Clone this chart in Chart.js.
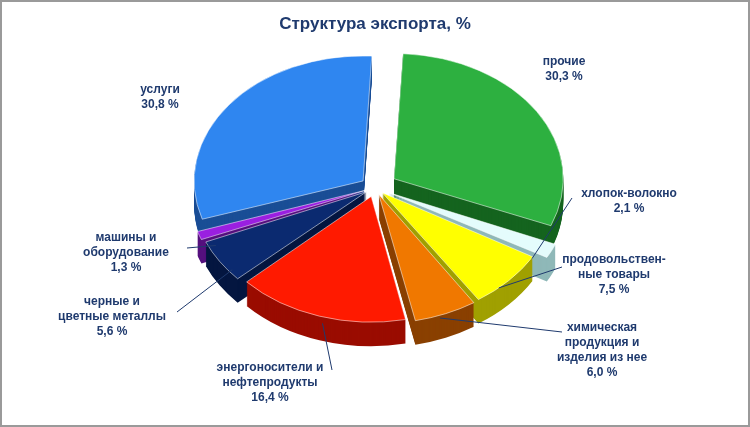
<!DOCTYPE html>
<html>
<head>
<meta charset="utf-8">
<script src="https://cdn.jsdelivr.net/npm/chart.js@4"></script>
<style>
  html, body { margin: 0; padding: 0; background: #fff; }
  #wrap { width: 746px; height: 423px; border: 2px solid #9a9a9a; position: relative; }
  canvas { display: block; }
</style>
</head>
<body>
<div id="wrap"><canvas id="myPlot" width="746" height="423"></canvas></div>
<script>
const categories = ['прочие', 'хлопок-волокно', 'продовольственные товары', 'химическая продукция и изделия из нее',
  'энергоносители и нефтепродукты', 'черные и цветные металлы', 'машины и оборудование', 'услуги'];
const shares = [30.3, 2.1, 7.5, 6.0, 16.4, 5.6, 1.3, 30.8];
const labelLines = [
  ['прочие', '30,3 %'],
  ['хлопок-волокно', '2,1 %'],
  ['продовольствен-', 'ные товары', '7,5 %'],
  ['химическая', 'продукция и', 'изделия из нее', '6,0 %'],
  ['энергоносители и', 'нефтепродукты', '16,4 %'],
  ['черные и', 'цветные металлы', '5,6 %'],
  ['машины и', 'оборудование', '1,3 %'],
  ['услуги', '30,8 %']
];
const topColors = ['#2DB040', '#E4FCFC', '#FFFF00', '#F07800', '#FF1A00', '#0B2A70', '#9A1FE0', '#2F86F0'];
const sideColors = ['#15641F', '#8FB8B8', '#A0A000', '#8A4000', '#9A0C00', '#041640', '#55107E', '#1A4E96'];
const offsets = [90, 60, 40, 40, 50, 40, 40, 60];
// label anchor (centre x, first line y) and where the leader line ends
const labelPos = [[562, 60], [627, 192], [612, 258], [600, 326], [268, 366], [110, 300], [124, 236], [158, 88]];
const leaderFrom = [null, [570, 196], [560, 265], [560, 330], [330, 368], [175, 310], [185, 246], null];

const SY = 0.74, DEPTH = 24;

function squash(chart) {
  const a = chart.chartArea;
  const cy = (a.top + a.bottom) / 2;
  return {cy: cy, map: y => cy + (y - cy) * SY};
}

const pie3d = {
  id: 'pie3d',
  beforeDatasetsDraw(chart) {
    const ctx = chart.ctx;
    const {cy} = squash(chart);
    const meta = chart.getDatasetMeta(0);
    ctx.save();
    ctx.translate(0, cy);
    ctx.scale(1, SY);
    ctx.translate(0, -cy);
    for (let d = DEPTH; d > 0; d--) {
      meta.data.forEach((arc, i) => {
        const saved = arc.options;
        arc.options = Object.assign({}, saved, {backgroundColor: sideColors[i], borderWidth: 0});
        ctx.save();
        ctx.translate(0, d / SY);
        arc.draw(ctx);
        ctx.restore();
        arc.options = saved;
      });
    }
  },
  afterDatasetsDraw(chart) {
    chart.ctx.restore();
  },
  afterDraw(chart) {
    const ctx = chart.ctx;
    const {map} = squash(chart);
    const meta = chart.getDatasetMeta(0);
    ctx.save();
    ctx.font = 'bold 12px "Liberation Sans", Arial, sans-serif';
    ctx.fillStyle = '#1F3A6E';
    ctx.textAlign = 'center';
    ctx.textBaseline = 'middle';
    labelLines.forEach((lines, i) => {
      const [x, y] = labelPos[i];
      lines.forEach((t, k) => ctx.fillText(t, x, y + k * 15));
      if (leaderFrom[i]) {
        const arc = meta.data[i];
        const mid = (arc.startAngle + arc.endAngle) / 2;
        const r = arc.outerRadius * 0.95 + offsets[i] / 4;
        const px = arc.x + Math.cos(mid) * r;
        const py = map(arc.y + Math.sin(mid) * r) + (Math.sin(mid) > 0 ? DEPTH * 0.6 : 0);
        ctx.strokeStyle = '#1F3A6E';
        ctx.lineWidth = 1;
        ctx.beginPath();
        ctx.moveTo(leaderFrom[i][0], leaderFrom[i][1]);
        ctx.lineTo(px, py);
        ctx.stroke();
      }
    });
    ctx.restore();
  }
};

new Chart('myPlot', {
  type: 'pie',
  data: {
    labels: categories,
    datasets: [{
      data: shares,
      backgroundColor: topColors,
      borderColor: 'rgba(255,255,255,0.6)',
      borderWidth: 1,
      offset: offsets
    }]
  },
  options: {
    responsive: false,
    animation: false,
    rotation: 3,
    radius: 168,
    layout: {padding: {top: 0, bottom: 84}},
    plugins: {
      legend: {display: false},
      tooltip: {enabled: false},
      title: {
        display: true,
        text: 'Структура экспорта, %',
        color: '#1F3A6E',
        font: {family: '"Liberation Sans", Arial, sans-serif', size: 17, weight: 'bold'},
        padding: {top: 12, bottom: 0}
      }
    }
  },
  plugins: [pie3d]
});
</script>
</body>
</html>
